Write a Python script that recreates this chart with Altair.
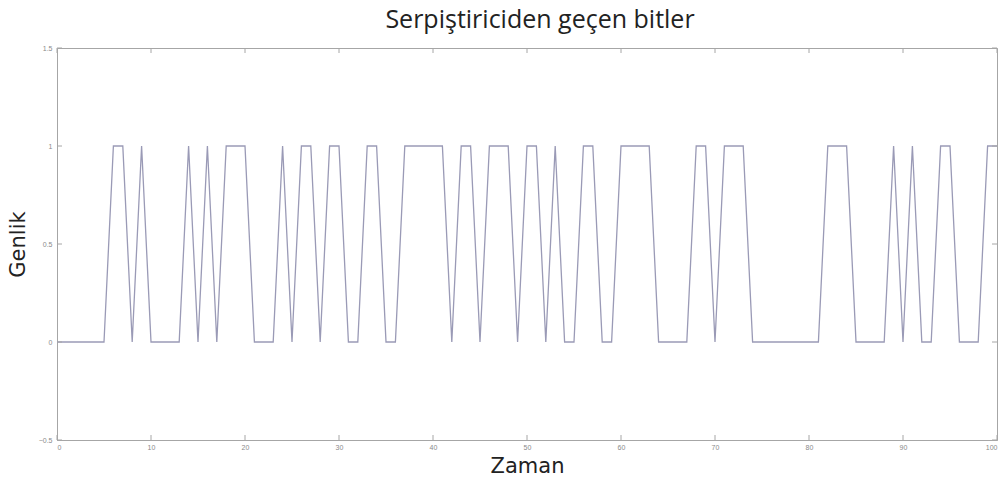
import altair as alt
import pandas as pd

# Time samples and interleaved bit values
zaman = list(range(0, 101))
bitler = [0,0,0,0,0,0,1,1,0,1,
          0,0,0,0,1,0,1,0,1,1,
          1,0,0,0,1,0,1,1,0,1,
          1,0,0,1,1,0,0,1,1,1,
          1,1,0,1,1,0,1,1,1,0,
          1,1,0,1,0,0,1,1,0,0,
          1,1,1,1,0,0,0,0,1,1,
          0,1,1,1,0,0,0,0,0,0,
          0,0,1,1,1,0,0,0,0,1,
          0,1,0,0,1,1,0,0,0,1,
          1]

x_ticks = [0, 10, 20, 30, 40, 50, 60, 70, 80, 90, 100]
y_ticks = [-0.5, 0, 0.5, 1, 1.5]

df = pd.DataFrame({"Zaman": zaman, "Genlik": bitler})
xt = pd.DataFrame({"t": x_ticks})
yt = pd.DataFrame({"t": y_ticks})

W, H = 940, 392
axis_col = "#a6a6a6"

xscale = alt.Scale(domain=[0, 100], nice=False, zero=False)
yscale = alt.Scale(domain=[-0.5, 1.5], nice=False, zero=False)

line = alt.Chart(df).mark_line(color="#9a9ab6", strokeWidth=1.3).encode(
    x=alt.X("Zaman:Q", scale=xscale,
            axis=alt.Axis(values=x_ticks, title="Zaman", tickSize=0,
                          labelFontSize=7, labelColor="#8a8a8a", labelPadding=3,
                          domainColor=axis_col, grid=False,
                          titleFontSize=21, titleFont="DejaVu Sans",
                          titleFontWeight="normal", titleColor="#222222",
                          titlePadding=5)),
    y=alt.Y("Genlik:Q", scale=yscale,
            axis=alt.Axis(values=y_ticks, title="Genlik", tickSize=0, format=".1~f",
                          labelFontSize=7, labelColor="#8a8a8a", labelPadding=5,
                          domainColor=axis_col, grid=False,
                          titleFontSize=21, titleFont="DejaVu Sans",
                          titleFontWeight="normal", titleColor="#222222",
                          titlePadding=10)),
)

tick_bottom = alt.Chart(xt).mark_rule(color=axis_col, strokeWidth=1).encode(
    x=alt.X("t:Q", scale=xscale), y=alt.value(H), y2=alt.value(H - 5))
tick_top = alt.Chart(xt).mark_rule(color=axis_col, strokeWidth=1).encode(
    x=alt.X("t:Q", scale=xscale), y=alt.value(0), y2=alt.value(5))
tick_left = alt.Chart(yt).mark_rule(color=axis_col, strokeWidth=1).encode(
    y=alt.Y("t:Q", scale=yscale), x=alt.value(0), x2=alt.value(5))
tick_right = alt.Chart(yt).mark_rule(color=axis_col, strokeWidth=1).encode(
    y=alt.Y("t:Q", scale=yscale), x=alt.value(W), x2=alt.value(W - 5))

chart = alt.layer(line, tick_bottom, tick_top, tick_left, tick_right).properties(
    width=W, height=H,
    title=alt.TitleParams("Serpiştiriciden geçen bitler", fontSize=25,
                          font="Open Sans", fontWeight="normal", color="#222222",
                          anchor="middle", offset=11, dx=13),
    autosize=alt.AutoSizeParams(type="none"),
    padding={"left": 57, "top": 48, "right": 2, "bottom": 43},
    background="white",
).configure_view(stroke=axis_col, strokeWidth=1)

chart.save("out.html", embed_options={"renderer": "svg", "actions": False})
